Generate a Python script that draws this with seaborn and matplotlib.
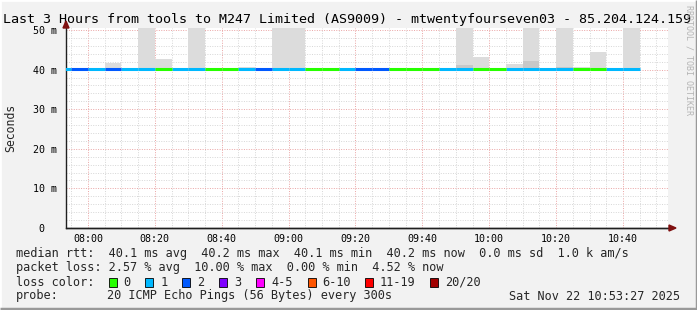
import numpy as np
import pandas as pd
import matplotlib
matplotlib.use("Agg")
import matplotlib.pyplot as plt
from matplotlib.patches import Rectangle, Polygon
from matplotlib.lines import Line2D
import seaborn as sns

# ---------------- data ----------------
bin_start = ["07:50", "07:55", "08:00", "08:05", "08:10", "08:15", "08:20", "08:25",
             "08:30", "08:35", "08:40", "08:45", "08:50", "08:55", "09:00", "09:05",
             "09:10", "09:15", "09:20", "09:25", "09:30", "09:35", "09:40", "09:45",
             "09:50", "09:55", "10:00", "10:05", "10:10", "10:15", "10:20", "10:25",
             "10:30", "10:35", "10:40"]
loss_count = [1, 2, 1, 2, 1, 1, 0, 1, 1, 0, 0, 1, 2, 1, 1, 0, 0, 1, 2, 2, 0, 0, 0, 1,
              1, 0, 0, 1, 1, 1, 1, 0, 0, 1, 1]
median_rtt = [40.1] * 35
smoke_min = [40.0] * 35
smoke_max = [40.1, 40.1, 40.1, 41.7, 40.1, 55.0, 42.75, 40.1, 55.0, 40.1, 40.1, 40.7,
             40.1, 55.0, 55.0, 40.1, 40.1, 40.1, 40.1, 40.1, 40.1, 40.1, 40.1, 40.1,
             55.0, 43.3, 40.1, 41.4, 55.0, 40.1, 55.0, 40.6, 44.4, 40.1, 55.0]
smoke_inner = [40.1] * 24 + [41.2, 40.1, 40.1, 40.1, 42.1, 40.1, 40.6, 40.1, 40.1, 40.1, 40.1]

x_ticks = ["08:00", "08:20", "08:40", "09:00", "09:20", "09:40", "10:00", "10:20", "10:40"]
y_ticks = [0, 10, 20, 30, 40, 50]
y_tick_labels = ["0  ", "10 m", "20 m", "30 m", "40 m", "50 m"]

loss_labels = ["0", "1", "2", "3", "4-5", "6-10", "11-19", "20/20"]
loss_colors = ["#26ff00", "#00b8ff", "#0059ff", "#7e00ff", "#ff00ff", "#ff5500", "#ff0000", "#a10000"]

title = "Last 3 Hours from tools to M247 Limited (AS9009) - mtwentyfourseven03 - 85.204.124.159"
line_rtt = "median rtt:  40.1 ms avg  40.2 ms max  40.1 ms min  40.2 ms now  0.0 ms sd  1.0 k am/s"
line_loss = "packet loss: 2.57 % avg  10.00 % max  0.00 % min  4.52 % now"
probe_txt = "20 ICMP Echo Pings (56 Bytes) every 300s"
date_txt = "Sat Nov 22 10:53:27 2025"


def tmin(s):
    h, m = s.split(":")
    return int(h) * 60 + int(m)


start = np.array([tmin(s) for s in bin_start], dtype=float)

# ---------------- style ----------------
sns.set_theme(style="white")
plt.rcParams["font.family"] = ["DejaVu Sans Mono"]
plt.rcParams["lines.solid_capstyle"] = "butt"

W, H = 697, 310
fig = plt.figure(figsize=(W / 100, H / 100), dpi=100)
fig.patch.set_facecolor("#f2f2f2")


def fx(x):
    return x / W


def fy(y):
    return 1 - y / H


ax = fig.add_axes([fx(66), fy(228), (668 - 66) / W, (228 - 28) / H])
ax.set_facecolor("white")

# smoke
ax.bar(start, np.array(smoke_max) - np.array(smoke_min), bottom=smoke_min, width=5,
       align="edge", color="#dcdcdc", linewidth=0, zorder=2)
ax.bar(start, np.array(smoke_inner) - np.array(smoke_min), bottom=smoke_min, width=5,
       align="edge", color="#c8c8c8", linewidth=0, zorder=2)

# median line, coloured by loss
rows = []
for i, (s, l, m) in enumerate(zip(start, loss_count, median_rtt)):
    rows.append({"t": s, "rtt": m, "seg": i, "loss": str(l)})
    rows.append({"t": s + 5, "rtt": m, "seg": i, "loss": str(l)})
df = pd.DataFrame(rows)
pal = {"0": loss_colors[0], "1": loss_colors[1], "2": loss_colors[2]}
sns.lineplot(data=df, x="t", y="rtt", hue="loss", units="seg", estimator=None,
             palette=pal, linewidth=2.2, legend=False, ax=ax, zorder=4)

# axes limits / ticks
x0 = 7 * 60 + 53 + 27 / 60
ax.set_xlim(x0, x0 + 180)
ax.set_ylim(0, 50.5)
xt = [tmin(s) for s in x_ticks]
ax.set_xticks(xt)
ax.set_xticklabels(x_ticks)
ax.set_xticks(np.arange(475, 655, 5), minor=True)
ax.set_yticks(y_ticks)
ax.set_yticklabels(y_tick_labels)
ax.set_yticks(np.arange(0, 51, 2), minor=True)
ax.set_xlabel("")
ax.set_ylabel("")

ax.grid(which="major", color="#eaa4a4", linestyle=(0, (1, 1.5)), linewidth=0.7, zorder=0)
ax.grid(which="minor", color="#d6d6d6", linestyle=(0, (1, 1.5)), linewidth=0.7, zorder=0)
ax.set_axisbelow(True)

for sp in ["top", "right"]:
    ax.spines[sp].set_visible(False)
for sp in ["left", "bottom"]:
    ax.spines[sp].set_color("#202020")
    ax.spines[sp].set_linewidth(1.0)

ax.tick_params(which="major", length=2.5, width=0.8, color="#555555", direction="out",
               labelsize=7.2, pad=2, labelcolor="#000000")
ax.tick_params(which="minor", length=1.5, width=0.8, color="#aaaaaa", direction="out")
ax.tick_params(axis="x", which="major", pad=2)
ax.tick_params(axis="y", which="major", pad=4)

# axis arrows
fig.patches.append(Polygon([[fx(63), fy(28)], [fx(69), fy(28)], [fx(66), fy(21)]],
                           closed=True, transform=fig.transFigure, color="#7f1010", zorder=10))
fig.patches.append(Polygon([[fx(669), fy(225)], [fx(669), fy(231)], [fx(676), fy(228)]],
                           closed=True, transform=fig.transFigure, color="#7f1010", zorder=10))
fig.lines.append(Line2D([fx(66), fx(670)], [fy(228), fy(228)], transform=fig.transFigure,
                        color="#202020", linewidth=1.0))

# texts
fig.text(fx(3), fy(19), title, fontsize=9.6, ha="left", va="center", color="#000000")
fig.text(fx(11), fy(128), "Seconds", rotation=90, fontsize=8.3, ha="center", va="center")
fig.text(fx(689), fy(5), "RRDTOOL / TOBI OETIKER", rotation=270, fontsize=6,
         ha="center", va="top", color="#b4b4b4")

fs = 8.55
fig.text(fx(16), fy(254), line_rtt, fontsize=fs, ha="left", va="center")
fig.text(fx(16), fy(268), line_loss, fontsize=fs, ha="left", va="center")
fig.text(fx(16), fy(282), "loss color:", fontsize=fs, ha="left", va="center")
box_x = [109, 145, 182, 219, 256, 307.5, 365, 430]
lab_x = [123.5, 160.5, 197, 234, 271.5, 322.5, 380, 445]
for bx, lx, lab, col in zip(box_x, lab_x, loss_labels, loss_colors):
    fig.patches.append(Rectangle((fx(bx), fy(286.5)), 8 / W, 9 / H, transform=fig.transFigure,
                                 facecolor=col, edgecolor="#000000", linewidth=0.6))
    fig.text(fx(lx), fy(282), lab, fontsize=fs, ha="left", va="center")
fig.text(fx(16), fy(296), "probe:", fontsize=fs, ha="left", va="center")
fig.text(fx(107), fy(296), probe_txt, fontsize=fs, ha="left", va="center")
fig.text(fx(680), fy(296), date_txt, fontsize=fs, ha="right", va="center")

# image border (3D frame)
fig.lines.append(Line2D([0, 0, 1], [0, 1, 1], transform=fig.transFigure,
                        color="#ffffff", linewidth=2))
fig.lines.append(Line2D([0, 1, 1], [0.002, 0.002, 1], transform=fig.transFigure,
                        color="#999999", linewidth=2.5))

fig.savefig("out.png", dpi=100, facecolor=fig.get_facecolor())
